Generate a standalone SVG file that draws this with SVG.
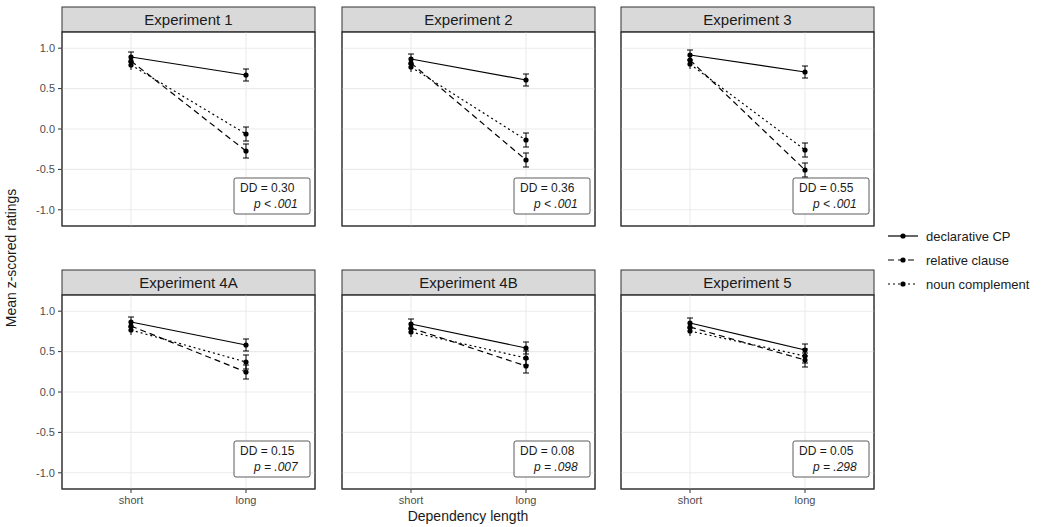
<svg xmlns="http://www.w3.org/2000/svg" width="1058" height="527" viewBox="0 0 1058 527">
<style>
text{font-family:"Liberation Sans",Arial,sans-serif;fill:#1a1a1a}
.strip{fill:#d9d9d9;stroke:#333;stroke-width:1}
.strip-t{font-size:15px;text-anchor:middle}
.panel{fill:#fff;stroke:#333;stroke-width:1}
.gmaj{stroke:#ebebeb;stroke-width:1.1}
.gmin{stroke:#f5f5f5;stroke-width:0.6}
.tick{stroke:#333;stroke-width:1}
.ytl{font-size:11px;text-anchor:end;fill:#4d4d4d}
.xtl{font-size:11px;text-anchor:middle;fill:#4d4d4d}
.ttl{font-size:14px;text-anchor:middle}
.ln{fill:none;stroke:#000;stroke-width:1.2}
.dcp{stroke-dasharray:none}
.rc{stroke-dasharray:6,4}
.nc{stroke-dasharray:2,3}
.eb{stroke:#000;stroke-width:1}
.pt{fill:#000}
.ann{fill:#fff;stroke:#333;stroke-width:0.8}
.ann-t{font-size:12px}
.leg{font-size:13px}
</style>
<defs>
<g id="ybase">
<line class="gmin" x1="0" x2="253" y1="-20.2" y2="-20.2"/>
<line class="gmin" x1="0" x2="253" y1="-60.6" y2="-60.6"/>
<line class="gmin" x1="0" x2="253" y1="-101" y2="-101"/>
<line class="gmin" x1="0" x2="253" y1="-141.4" y2="-141.4"/>
</g>
</defs>

<!-- Top row -->
<g id="panel-exp1">
<rect class="strip" x="62" y="7" width="253" height="25"/>
<text class="strip-t" x="188.5" y="25">Experiment 1</text>
<rect class="panel" x="62" y="32" width="253" height="194"/>
<g>
<line class="gmaj" x1="62" x2="315" y1="48.2" y2="48.2"/><line class="gmaj" x1="62" x2="315" y1="88.6" y2="88.6"/><line class="gmaj" x1="62" x2="315" y1="129" y2="129"/><line class="gmaj" x1="62" x2="315" y1="169.4" y2="169.4"/><line class="gmaj" x1="62" x2="315" y1="209.8" y2="209.8"/>
<line class="gmaj" x1="131" x2="131" y1="32" y2="226"/><line class="gmaj" x1="246" x2="246" y1="32" y2="226"/>
</g>
<rect class="panel" x="62" y="32" width="253" height="194" fill="none" style="fill:none"/>
</g>
<g id="panel-exp2">
<rect class="strip" x="342" y="7" width="253" height="25"/>
<text class="strip-t" x="468.5" y="25">Experiment 2</text>
<rect class="panel" x="342" y="32" width="253" height="194"/>
<line class="gmaj" x1="342" x2="595" y1="48.2" y2="48.2"/><line class="gmaj" x1="342" x2="595" y1="88.6" y2="88.6"/><line class="gmaj" x1="342" x2="595" y1="129" y2="129"/><line class="gmaj" x1="342" x2="595" y1="169.4" y2="169.4"/><line class="gmaj" x1="342" x2="595" y1="209.8" y2="209.8"/>
<line class="gmaj" x1="411" x2="411" y1="32" y2="226"/><line class="gmaj" x1="526" x2="526" y1="32" y2="226"/>
<rect class="panel" x="342" y="32" width="253" height="194" style="fill:none"/>
</g>
<g id="panel-exp3">
<rect class="strip" x="621" y="7" width="253" height="25"/>
<text class="strip-t" x="747.5" y="25">Experiment 3</text>
<rect class="panel" x="621" y="32" width="253" height="194"/>
<line class="gmaj" x1="621" x2="874" y1="48.2" y2="48.2"/><line class="gmaj" x1="621" x2="874" y1="88.6" y2="88.6"/><line class="gmaj" x1="621" x2="874" y1="129" y2="129"/><line class="gmaj" x1="621" x2="874" y1="169.4" y2="169.4"/><line class="gmaj" x1="621" x2="874" y1="209.8" y2="209.8"/>
<line class="gmaj" x1="690" x2="690" y1="32" y2="226"/><line class="gmaj" x1="805" x2="805" y1="32" y2="226"/>
<rect class="panel" x="621" y="32" width="253" height="194" style="fill:none"/>
</g>

<!-- Bottom row -->
<g id="panel-exp4a">
<rect class="strip" x="62" y="270" width="253" height="25"/>
<text class="strip-t" x="188.5" y="288">Experiment 4A</text>
<rect class="panel" x="62" y="295" width="253" height="194"/>
<line class="gmaj" x1="62" x2="315" y1="311.2" y2="311.2"/><line class="gmaj" x1="62" x2="315" y1="351.6" y2="351.6"/><line class="gmaj" x1="62" x2="315" y1="392" y2="392"/><line class="gmaj" x1="62" x2="315" y1="432.4" y2="432.4"/><line class="gmaj" x1="62" x2="315" y1="472.8" y2="472.8"/>
<line class="gmaj" x1="131" x2="131" y1="295" y2="489"/><line class="gmaj" x1="246" x2="246" y1="295" y2="489"/>
<rect class="panel" x="62" y="295" width="253" height="194" style="fill:none"/>
</g>
<g id="panel-exp4b">
<rect class="strip" x="342" y="270" width="253" height="25"/>
<text class="strip-t" x="468.5" y="288">Experiment 4B</text>
<rect class="panel" x="342" y="295" width="253" height="194"/>
<line class="gmaj" x1="342" x2="595" y1="311.2" y2="311.2"/><line class="gmaj" x1="342" x2="595" y1="351.6" y2="351.6"/><line class="gmaj" x1="342" x2="595" y1="392" y2="392"/><line class="gmaj" x1="342" x2="595" y1="432.4" y2="432.4"/><line class="gmaj" x1="342" x2="595" y1="472.8" y2="472.8"/>
<line class="gmaj" x1="411" x2="411" y1="295" y2="489"/><line class="gmaj" x1="526" x2="526" y1="295" y2="489"/>
<rect class="panel" x="342" y="295" width="253" height="194" style="fill:none"/>
</g>
<g id="panel-exp5">
<rect class="strip" x="621" y="270" width="253" height="25"/>
<text class="strip-t" x="747.5" y="288">Experiment 5</text>
<rect class="panel" x="621" y="295" width="253" height="194"/>
<line class="gmaj" x1="621" x2="874" y1="311.2" y2="311.2"/><line class="gmaj" x1="621" x2="874" y1="351.6" y2="351.6"/><line class="gmaj" x1="621" x2="874" y1="392" y2="392"/><line class="gmaj" x1="621" x2="874" y1="432.4" y2="432.4"/><line class="gmaj" x1="621" x2="874" y1="472.8" y2="472.8"/>
<line class="gmaj" x1="690" x2="690" y1="295" y2="489"/><line class="gmaj" x1="805" x2="805" y1="295" y2="489"/>
<rect class="panel" x="621" y="295" width="253" height="194" style="fill:none"/>
</g>

<!-- Axes -->
<g id="axes">
<g class="tick">
<line x1="58" x2="62" y1="48.2" y2="48.2"/><line x1="58" x2="62" y1="88.6" y2="88.6"/><line x1="58" x2="62" y1="129" y2="129"/><line x1="58" x2="62" y1="169.4" y2="169.4"/><line x1="58" x2="62" y1="209.8" y2="209.8"/>
<line x1="58" x2="62" y1="311.2" y2="311.2"/><line x1="58" x2="62" y1="351.6" y2="351.6"/><line x1="58" x2="62" y1="392" y2="392"/><line x1="58" x2="62" y1="432.4" y2="432.4"/><line x1="58" x2="62" y1="472.8" y2="472.8"/>
<line x1="131" x2="131" y1="489" y2="493"/><line x1="246" x2="246" y1="489" y2="493"/><line x1="411" x2="411" y1="489" y2="493"/><line x1="526" x2="526" y1="489" y2="493"/><line x1="690" x2="690" y1="489" y2="493"/><line x1="805" x2="805" y1="489" y2="493"/>
</g>
<text class="ytl" x="55" y="52">1.0</text><text class="ytl" x="55" y="92">0.5</text><text class="ytl" x="55" y="133">0.0</text><text class="ytl" x="55" y="173">-0.5</text><text class="ytl" x="55" y="214">-1.0</text>
<text class="ytl" x="55" y="315">1.0</text><text class="ytl" x="55" y="355">0.5</text><text class="ytl" x="55" y="396">0.0</text><text class="ytl" x="55" y="436">-0.5</text><text class="ytl" x="55" y="477">-1.0</text>
<text class="xtl" x="131" y="504">short</text><text class="xtl" x="246" y="504">long</text>
<text class="xtl" x="411" y="504">short</text><text class="xtl" x="526" y="504">long</text>
<text class="xtl" x="690" y="504">short</text><text class="xtl" x="805" y="504">long</text>
<text class="ttl" x="468" y="521">Dependency length</text>
<text class="ttl" transform="translate(16,258) rotate(-90)">Mean z-scored ratings</text>
</g>

<!-- Data connectors -->
<g id="connectors">
<!-- Exp1 -->
<path class="ln dcp" d="M131,57 L246,75"/><path class="ln rc" d="M131,61 L246,151"/><path class="ln nc" d="M131,65 L246,134"/>
<!-- Exp2 -->
<path class="ln dcp" d="M411,59 L526,80"/><path class="ln rc" d="M411,63 L526,160"/><path class="ln nc" d="M411,67 L526,140"/>
<!-- Exp3 -->
<path class="ln dcp" d="M690,55 L805,72"/><path class="ln rc" d="M690,60 L805,170"/><path class="ln nc" d="M690,64 L805,150"/>
<!-- Exp4A -->
<path class="ln dcp" d="M131,322 L246,345"/><path class="ln rc" d="M131,326 L246,372"/><path class="ln nc" d="M131,330 L246,362"/>
<!-- Exp4B -->
<path class="ln dcp" d="M411,324 L526,348"/><path class="ln rc" d="M411,328 L526,366"/><path class="ln nc" d="M411,332 L526,358"/>
<!-- Exp5 -->
<path class="ln dcp" d="M690,323 L805,350"/><path class="ln rc" d="M690,327 L805,360"/><path class="ln nc" d="M690,331 L805,356"/>
<!-- error bars -->
<g class="eb">
<path d="M131,52v10M128,52h6M128,62h6M246,69v12M243,69h6M243,81h6M131,56v10M246,144v14M243,144h6M243,158h6M131,60v10M246,127v14M243,127h6M243,141h6"/>
<path d="M411,54v10M408,54h6M408,64h6M526,74v12M523,74h6M523,86h6M411,58v10M526,153v14M523,153h6M523,167h6M411,62v10M526,133v14M523,133h6M523,147h6"/>
<path d="M690,50v10M687,50h6M687,60h6M805,66v12M802,66h6M802,78h6M690,55v10M805,163v14M802,163h6M802,177h6M690,59v10M805,143v14M802,143h6M802,157h6"/>
<path d="M131,317v10M128,317h6M128,327h6M246,339v12M243,339h6M243,351h6M131,321v10M246,365v14M243,365h6M243,379h6M131,325v10M246,355v14M243,355h6M243,369h6"/>
<path d="M411,319v10M408,319h6M408,329h6M526,342v12M523,342h6M523,354h6M411,323v10M526,359v14M523,359h6M523,373h6M411,327v10M526,351v14M523,351h6M523,365h6"/>
<path d="M690,318v10M687,318h6M687,328h6M805,344v12M802,344h6M802,356h6M690,322v10M805,353v14M802,353h6M802,367h6M690,326v10M805,349v14M802,349h6M802,363h6"/>
</g>
<g class="pt">
<circle cx="131" cy="57" r="2.6"/><circle cx="246" cy="75" r="2.6"/><circle cx="131" cy="61" r="2.6"/><circle cx="246" cy="151" r="2.6"/><circle cx="131" cy="65" r="2.6"/><circle cx="246" cy="134" r="2.6"/>
<circle cx="411" cy="59" r="2.6"/><circle cx="526" cy="80" r="2.6"/><circle cx="411" cy="63" r="2.6"/><circle cx="526" cy="160" r="2.6"/><circle cx="411" cy="67" r="2.6"/><circle cx="526" cy="140" r="2.6"/>
<circle cx="690" cy="55" r="2.6"/><circle cx="805" cy="72" r="2.6"/><circle cx="690" cy="60" r="2.6"/><circle cx="805" cy="170" r="2.6"/><circle cx="690" cy="64" r="2.6"/><circle cx="805" cy="150" r="2.6"/>
<circle cx="131" cy="322" r="2.6"/><circle cx="246" cy="345" r="2.6"/><circle cx="131" cy="326" r="2.6"/><circle cx="246" cy="372" r="2.6"/><circle cx="131" cy="330" r="2.6"/><circle cx="246" cy="362" r="2.6"/>
<circle cx="411" cy="324" r="2.6"/><circle cx="526" cy="348" r="2.6"/><circle cx="411" cy="328" r="2.6"/><circle cx="526" cy="366" r="2.6"/><circle cx="411" cy="332" r="2.6"/><circle cx="526" cy="358" r="2.6"/>
<circle cx="690" cy="323" r="2.6"/><circle cx="805" cy="350" r="2.6"/><circle cx="690" cy="327" r="2.6"/><circle cx="805" cy="360" r="2.6"/><circle cx="690" cy="331" r="2.6"/><circle cx="805" cy="356" r="2.6"/>
</g>
</g>

<!-- DD annotations -->
<g id="annotations">
<rect class="ann" x="234" y="178" width="76" height="36" rx="2"/>
<text class="ann-t" x="240" y="192">DD = 0.30</text><text class="ann-t" x="254" y="208" font-style="italic">p &lt; .001</text>
<rect class="ann" x="514" y="178" width="76" height="36" rx="2"/>
<text class="ann-t" x="520" y="192">DD = 0.36</text><text class="ann-t" x="534" y="208" font-style="italic">p &lt; .001</text>
<rect class="ann" x="793" y="178" width="76" height="36" rx="2"/>
<text class="ann-t" x="799" y="192">DD = 0.55</text><text class="ann-t" x="813" y="208" font-style="italic">p &lt; .001</text>
<rect class="ann" x="234" y="441" width="76" height="36" rx="2"/>
<text class="ann-t" x="240" y="455">DD = 0.15</text><text class="ann-t" x="254" y="471" font-style="italic">p = .007</text>
<rect class="ann" x="514" y="441" width="76" height="36" rx="2"/>
<text class="ann-t" x="520" y="455">DD = 0.08</text><text class="ann-t" x="534" y="471" font-style="italic">p = .098</text>
<rect class="ann" x="793" y="441" width="76" height="36" rx="2"/>
<text class="ann-t" x="799" y="455">DD = 0.05</text><text class="ann-t" x="813" y="471" font-style="italic">p = .298</text>
</g>

<!-- Legend -->
<g id="legend">
<line class="ln dcp" x1="888" x2="918" y1="236" y2="236"/><circle class="pt" cx="903" cy="236" r="2.6"/>
<text class="leg" x="926" y="241">declarative CP</text>
<line class="ln rc" x1="888" x2="918" y1="260" y2="260"/><circle class="pt" cx="903" cy="260" r="2.6"/>
<text class="leg" x="926" y="265">relative clause</text>
<line class="ln nc" x1="888" x2="918" y1="284" y2="284"/><circle class="pt" cx="903" cy="284" r="2.6"/>
<text class="leg" x="926" y="289">noun complement</text>
</g>
</svg>
